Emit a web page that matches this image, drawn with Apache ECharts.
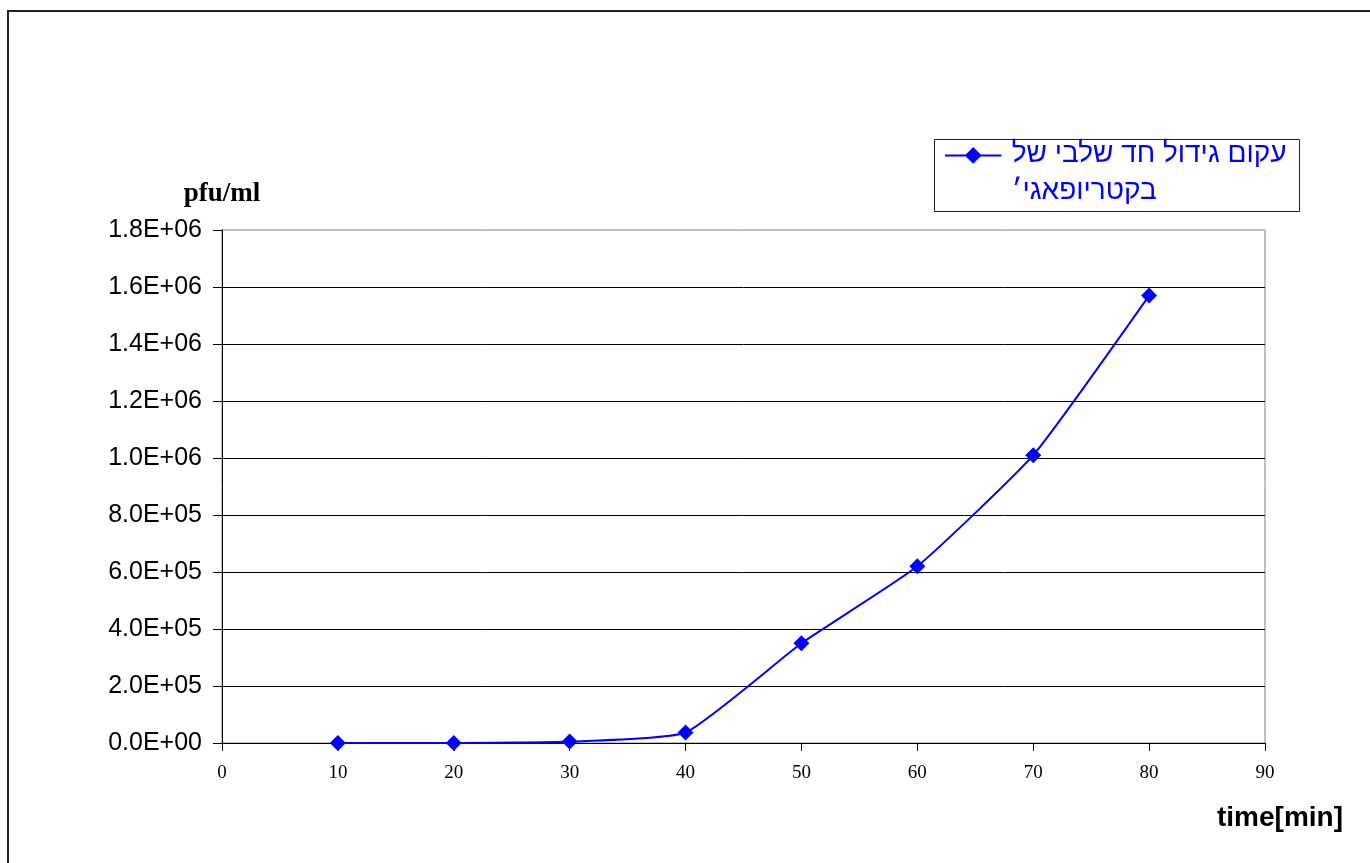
<!DOCTYPE html>
<html>
<head>
<meta charset="utf-8">
<script src="https://cdn.jsdelivr.net/npm/echarts@6/dist/echarts.min.js"></script>
<style>
  html, body { margin: 0; padding: 0; background: #fff; }
  #chart { width: 1370px; height: 863px; }
</style>
</head>
<body>
<div id="chart"></div>
<script>
// Sampling times (minutes) and plaque counts (pfu/ml)
const timeMin = [10, 20, 30, 40, 50, 60, 70, 80];
const pfuPerMl = [0, 0, 5000, 37000, 350000, 620000, 1010000, 1570000];

// Axis ranges
const xMin = 0, xMax = 90, xStep = 10;
const yMin = 0, yMax = 1800000, yStep = 200000;

const seriesName = 'עקום גידול חד שלבי של\nבקטריופאגי׳';
const yAxisTitle = 'pfu/ml';
const xAxisTitle = 'time[min]';

// 1.8E+06 style labels
function sci(v) {
  if (v === 0) return '0.0E+00';
  const e = Math.floor(Math.log10(Math.abs(v)) + 1e-9);
  const m = v / Math.pow(10, e);
  return m.toFixed(1) + 'E' + (e < 0 ? '-' : '+') + String(Math.abs(e)).padStart(2, '0');
}

// Legend key: line with a diamond, sitting level with the first text line
// (the last, empty sub-path only widens the key box to leave a gap before the text)
const legendKey = 'path://M0,7H57V9H0Z M28.5,-0.5L37,8L28.5,16.5L20,8Z M62,52L62,52Z';

const chart = echarts.init(document.getElementById('chart'), null, { renderer: 'canvas' });

chart.setOption({
  animation: false,
  backgroundColor: '#ffffff',
  grid: {
    left: 222, right: 105, top: 230, bottom: 120,
    show: true, borderColor: '#808080', borderWidth: 1, backgroundColor: 'transparent'
  },
  graphic: [
    // outer chart frame
    { type: 'rect', silent: true, z: 0,
      shape: { x: 8, y: 11, width: 1420, height: 900 },
      style: { fill: 'none', stroke: '#222', lineWidth: 2 } },
    // legend frame
    { type: 'rect', silent: true, z: 5,
      shape: { x: 934.5, y: 139.5, width: 365, height: 72 },
      style: { fill: '#fff', stroke: '#222', lineWidth: 1 } }
  ],
  legend: {
    left: 945, top: 136, padding: 0, z: 10,
    icon: legendKey,
    itemWidth: 62, itemHeight: 52,
    itemStyle: { color: '#0000ff' },
    textStyle: {
      color: '#0000ff', fontFamily: 'Liberation Sans, DejaVu Sans, sans-serif',
      fontSize: 28, lineHeight: 37
    },
    data: [seriesName]
  },
  xAxis: {
    type: 'value', min: xMin, max: xMax, interval: xStep,
    name: xAxisTitle, nameLocation: 'end', nameGap: -48,
    nameTextStyle: {
      color: '#000', fontFamily: 'Liberation Sans, Arial, sans-serif', fontWeight: 'bold',
      fontSize: 28, align: 'left', verticalAlign: 'top', padding: [61, 0, 0, 0]
    },
    axisLine: { show: true, onZero: false, lineStyle: { color: '#000', width: 1 } },
    axisTick: { show: true, inside: false, length: 8, lineStyle: { color: '#000' } },
    axisLabel: { color: '#000', fontFamily: 'Liberation Serif, Times New Roman, serif', fontSize: 19, margin: 21 },
    splitLine: { show: false }
  },
  yAxis: {
    type: 'value', min: yMin, max: yMax, interval: yStep,
    name: yAxisTitle, nameLocation: 'end', nameGap: 22,
    nameTextStyle: {
      color: '#000', fontFamily: 'Liberation Serif, Times New Roman, serif', fontWeight: 'bold',
      fontSize: 27, align: 'center', verticalAlign: 'bottom'
    },
    axisLine: { show: true, lineStyle: { color: '#000', width: 1 } },
    axisTick: { show: true, inside: false, length: 9, lineStyle: { color: '#000' } },
    axisLabel: { color: '#000', fontFamily: 'Liberation Sans, Arial, sans-serif', fontSize: 25, margin: 20, formatter: sci },
    splitLine: { show: true, showMaxLine: false, lineStyle: { color: '#000', width: 1 } }
  },
  series: [{
    name: seriesName,
    type: 'line',
    smooth: 0.15,
    data: timeMin.map((t, i) => [t, pfuPerMl[i]]),
    symbol: 'diamond',
    symbolSize: 16,
    lineStyle: { color: '#0000ff', width: 2 },
    itemStyle: { color: '#0000ff' },
    z: 3
  }]
});
</script>
</body>
</html>
